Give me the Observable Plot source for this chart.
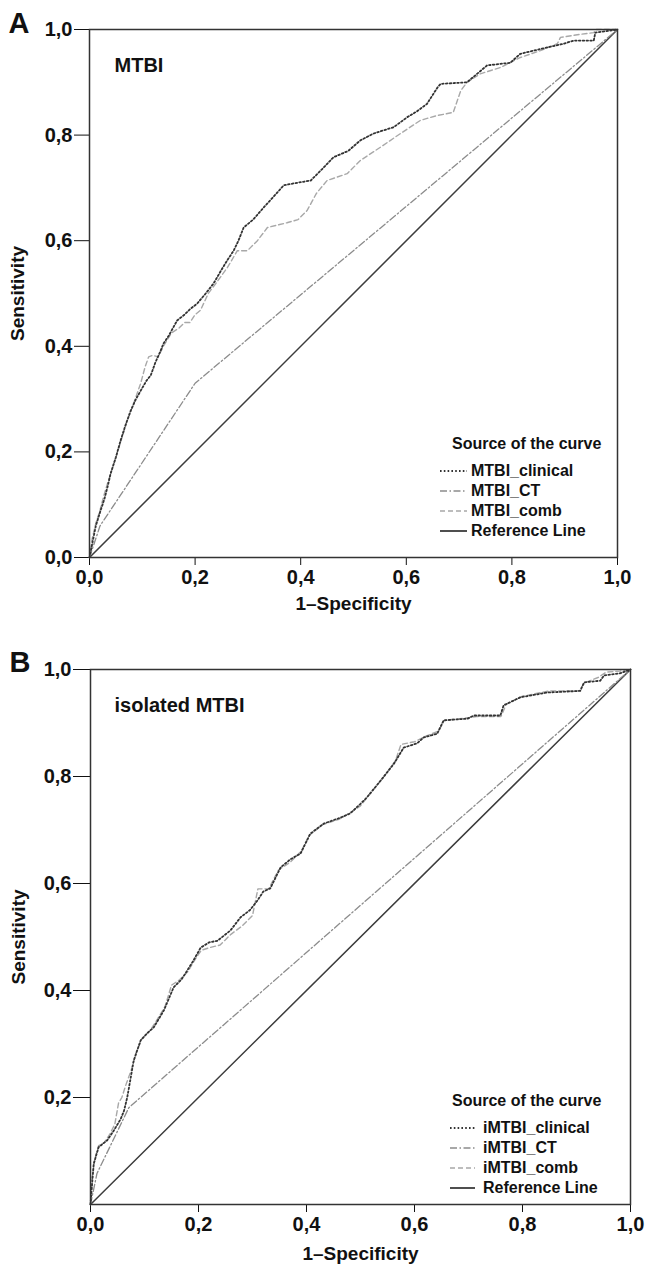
<!DOCTYPE html>
<html>
<head>
<meta charset="utf-8">
<script src="https://cdn.jsdelivr.net/npm/d3@7"></script>
<script src="https://cdn.jsdelivr.net/npm/@observablehq/plot@0.6"></script>
<style>
  html, body { margin: 0; padding: 0; background: #fff; }
  #page { position: relative; width: 645px; height: 1267px; overflow: hidden; font-family: "Liberation Sans", Arial, sans-serif; font-weight: bold; color: #111; }
  #page svg { display: block; }
  .legend { position: absolute; font-size: 16px; line-height: 20px; color: #111; }
  .legend .row { display: flex; align-items: center; height: 20px; }
  .legend .title { margin-bottom: 7px; }
</style>
</head>
<body>
<div id="page"></div>
<script>
// ---------- data ----------
const panelLetters = ["A", "B"];
const panelTitles = ["MTBI", "isolated MTBI"];
const xTitle = "1\u2013Specificity";
const yTitle = "Sensitivity";
const legendTitle = "Source of the curve";
const legendA = ["MTBI_clinical", "MTBI_CT", "MTBI_comb", "Reference Line"];
const legendB = ["iMTBI_clinical", "iMTBI_CT", "iMTBI_comb", "Reference Line"];
const xTicks = [0, 0.2, 0.4, 0.6, 0.8, 1.0];
const yTicksA = [0, 0.2, 0.4, 0.6, 0.8, 1.0];
const yTicksB = [0.2, 0.4, 0.6, 0.8, 1.0];

const refLine = [[0, 0], [1, 1]];

const aClinical = [[0,0],[0.006,0.03],[0.012,0.06],[0.021,0.089],[0.028,0.11],[0.034,0.133],[0.04,0.159],[0.05,0.19],[0.059,0.222],[0.068,0.25],[0.078,0.278],[0.088,0.30],[0.097,0.316],[0.108,0.335],[0.116,0.345],[0.125,0.37],[0.134,0.39],[0.14,0.405],[0.15,0.42],[0.166,0.449],[0.18,0.46],[0.19,0.47],[0.204,0.481],[0.22,0.50],[0.235,0.519],[0.25,0.545],[0.261,0.563],[0.273,0.581],[0.282,0.60],[0.292,0.625],[0.31,0.64],[0.33,0.663],[0.35,0.685],[0.368,0.705],[0.395,0.71],[0.419,0.714],[0.44,0.735],[0.462,0.758],[0.49,0.77],[0.513,0.79],[0.538,0.803],[0.576,0.815],[0.602,0.834],[0.62,0.845],[0.639,0.859],[0.659,0.89],[0.665,0.897],[0.715,0.9],[0.734,0.916],[0.753,0.932],[0.797,0.937],[0.816,0.954],[0.867,0.966],[0.898,0.973],[0.917,0.979],[0.955,0.979],[0.958,0.994],[1,1]];
const aCT = [[0,0],[0.02,0.06],[0.2,0.33],[1,1]];
const aComb = [[0,0],[0.005,0.035],[0.012,0.065],[0.02,0.09],[0.028,0.12],[0.034,0.14],[0.042,0.165],[0.05,0.19],[0.06,0.222],[0.07,0.255],[0.08,0.282],[0.09,0.31],[0.097,0.33],[0.105,0.36],[0.112,0.38],[0.12,0.383],[0.13,0.38],[0.14,0.40],[0.155,0.425],[0.17,0.435],[0.18,0.445],[0.19,0.445],[0.2,0.46],[0.21,0.468],[0.225,0.50],[0.24,0.52],[0.261,0.549],[0.28,0.581],[0.299,0.581],[0.318,0.60],[0.337,0.625],[0.374,0.634],[0.395,0.64],[0.412,0.657],[0.43,0.69],[0.45,0.714],[0.488,0.727],[0.513,0.752],[0.551,0.777],[0.589,0.803],[0.627,0.828],[0.658,0.837],[0.689,0.843],[0.703,0.884],[0.715,0.9],[0.74,0.916],[0.778,0.928],[0.816,0.947],[0.854,0.96],[0.886,0.973],[0.892,0.985],[0.93,0.991],[0.955,0.994],[0.96,1],[1,1]];

const bClinical = [[0,0],[0.003,0.039],[0.006,0.076],[0.01,0.09],[0.015,0.107],[0.031,0.12],[0.043,0.138],[0.056,0.16],[0.062,0.175],[0.068,0.2],[0.075,0.24],[0.08,0.269],[0.093,0.307],[0.105,0.32],[0.117,0.331],[0.136,0.363],[0.154,0.406],[0.168,0.42],[0.179,0.437],[0.19,0.455],[0.204,0.48],[0.22,0.49],[0.235,0.493],[0.259,0.512],[0.278,0.537],[0.295,0.55],[0.309,0.568],[0.32,0.585],[0.333,0.591],[0.352,0.63],[0.37,0.645],[0.389,0.656],[0.407,0.693],[0.432,0.712],[0.463,0.723],[0.481,0.731],[0.5,0.749],[0.512,0.761],[0.537,0.792],[0.562,0.824],[0.58,0.854],[0.605,0.862],[0.617,0.873],[0.642,0.88],[0.654,0.905],[0.698,0.908],[0.71,0.914],[0.759,0.914],[0.765,0.933],[0.796,0.948],[0.846,0.957],[0.907,0.96],[0.914,0.976],[0.944,0.979],[0.951,0.989],[0.981,0.993],[1,1]];
const bCT = [[0,0],[0.012,0.058],[0.071,0.181],[1,1]];
const bComb = [[0,0],[0.003,0.05],[0.008,0.085],[0.015,0.11],[0.025,0.115],[0.035,0.13],[0.045,0.15],[0.052,0.19],[0.058,0.2],[0.066,0.225],[0.075,0.25],[0.085,0.285],[0.095,0.31],[0.11,0.325],[0.12,0.34],[0.138,0.37],[0.15,0.41],[0.165,0.42],[0.18,0.435],[0.195,0.46],[0.205,0.475],[0.22,0.48],[0.24,0.485],[0.26,0.505],[0.28,0.52],[0.3,0.54],[0.31,0.59],[0.33,0.59],[0.348,0.625],[0.37,0.64],[0.39,0.66],[0.405,0.69],[0.43,0.71],[0.46,0.72],[0.485,0.735],[0.5,0.745],[0.515,0.765],[0.54,0.795],[0.565,0.83],[0.575,0.86],[0.6,0.865],[0.62,0.875],[0.645,0.885],[0.655,0.905],[0.7,0.91],[0.715,0.912],[0.76,0.912],[0.77,0.935],[0.8,0.95],[0.85,0.96],[0.905,0.96],[0.915,0.975],[0.94,0.985],[0.955,0.995],[0.98,0.997],[1,1]];

// ---------- styles ----------
const styles = {
  clinical: { stroke: "#333333", strokeWidth: 1.8, strokeDasharray: "1.6,2.2" },
  ct:       { stroke: "#8c8c8c", strokeWidth: 1.3, strokeDasharray: "7,2.5,1.5,2.5" },
  comb:     { stroke: "#a8a8a8", strokeWidth: 1.4, strokeDasharray: "5,3" },
  ref:      { stroke: "#3c3c3c", strokeWidth: 1.5, strokeDasharray: null }
};
const fmt = d => d.toFixed(1).replace(".", ",");
const FONT = "'Liberation Sans', Arial, Helvetica, sans-serif";

function panel(cfg) {
  const line = (data, st) => Plot.line(data, { x: d => d[0], y: d => d[1], stroke: st.stroke, strokeWidth: st.strokeWidth, strokeDasharray: st.strokeDasharray || undefined });
  return Plot.plot({
    width: 645,
    height: cfg.height,
    marginLeft: cfg.ml, marginRight: cfg.mr, marginTop: cfg.mt, marginBottom: cfg.mb,
    style: { fontFamily: FONT, fontWeight: "bold", fontSize: "20px", color: "#111", background: "white", overflow: "visible" },
    x: { domain: [0, 1], ticks: xTicks, tickFormat: fmt, tickSize: 8, tickPadding: 4, label: null },
    y: { domain: [0, 1], ticks: cfg.yTicks, tickFormat: fmt, tickSize: cfg.ytick, tickPadding: 2, label: null },
    marks: [
      line(refLine, styles.ref),
      line(cfg.ct, styles.ct),
      line(cfg.comb, styles.comb),
      line(cfg.clinical, styles.clinical),
      Plot.frame({ stroke: "#333", strokeWidth: 1.5 }),
      Plot.text([cfg.title], { frameAnchor: "top-left", text: d => d, dx: cfg.titleDx, dy: cfg.titleDy, textAnchor: "start", lineAnchor: "middle", fontSize: 20, fontWeight: "bold", fill: "#111" }),
      Plot.text([cfg.letter], { frameAnchor: "top-left", text: d => d, dx: cfg.letterDx, dy: cfg.letterDy, textAnchor: "start", lineAnchor: "middle", fontSize: 29, fontWeight: "bold", fill: "#111" }),
      Plot.text([xTitle], { frameAnchor: "bottom", text: d => d, dy: cfg.xTitleDy, lineAnchor: "middle", fontSize: 19, fontWeight: "bold", fill: "#111" }),
      Plot.text([yTitle], { frameAnchor: "left", text: d => d, dx: cfg.yTitleDx, rotate: -90, textAnchor: "middle", lineAnchor: "middle", fontSize: 19, fontWeight: "bold", fill: "#111" })
    ]
  });
}

function legend(items, left, top, sampleLeft, sampleW, gap) {
  const keys = ["clinical", "ct", "comb", "ref"];
  const div = document.createElement("div");
  div.className = "legend";
  div.style.left = sampleLeft + "px";
  div.style.top = top + "px";
  const t = document.createElement("div");
  t.className = "title";
  t.style.marginLeft = (left - sampleLeft) + "px";
  t.textContent = legendTitle;
  div.appendChild(t);
  items.forEach((name, i) => {
    const st = styles[keys[i]];
    const row = document.createElement("div");
    row.className = "row";
    const ns = "http://www.w3.org/2000/svg";
    const s = document.createElementNS(ns, "svg");
    s.setAttribute("width", sampleW);
    s.setAttribute("height", 10);
    s.style.marginRight = gap + "px";
    const l = document.createElementNS(ns, "line");
    l.setAttribute("x1", 0); l.setAttribute("x2", sampleW);
    l.setAttribute("y1", 5); l.setAttribute("y2", 5);
    l.setAttribute("stroke", st.stroke);
    l.setAttribute("stroke-width", st.strokeWidth + 0.3);
    if (st.strokeDasharray) l.setAttribute("stroke-dasharray", st.strokeDasharray);
    s.appendChild(l);
    row.appendChild(s);
    const span = document.createElement("span");
    span.textContent = name;
    row.appendChild(span);
    div.appendChild(row);
  });
  return div;
}

const page = document.getElementById("page");
const a = panel({ height: 617, ml: 89, mr: 28, mt: 29, mb: 60, yTicks: yTicksA, ytick: 15,
  clinical: aClinical, ct: aCT, comb: aComb, title: panelTitles[0], letter: panelLetters[0],
  titleDx: 25, titleDy: 36, letterDx: -81, letterDy: -6, xTitleDy: 46, yTitleDx: -72 });
const b = panel({ height: 650, ml: 90, mr: 15, mt: 52, mb: 63, yTicks: yTicksB, ytick: 17,
  clinical: bClinical, ct: bCT, comb: bComb, title: panelTitles[1], letter: panelLetters[1],
  titleDx: 24, titleDy: 36, letterDx: -81, letterDy: -7, xTitleDy: 49, yTitleDx: -72 });
page.appendChild(a);
page.appendChild(b);
page.appendChild(legend(legendA, 452, 434, 440, 27, 4));
page.appendChild(legend(legendB, 452, 1091, 450, 25, 8));
</script>
</body>
</html>
